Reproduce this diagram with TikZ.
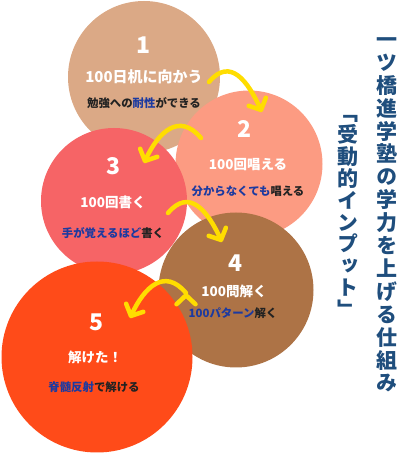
\documentclass[tikz,border=0pt]{standalone}
\usepackage{fontspec}
\setmainfont{Noto Sans CJK JP}
\newfontfamily\tatefont{Noto Sans CJK JP}[RawFeature=+vert]
\usetikzlibrary{arrows.meta}
\newcommand\bluetxt[1]{\textcolor{txt_blue}{#1}}
\definecolor{bub_tan}{RGB}{219,169,134}
\definecolor{bub_salmon}{RGB}{252,155,130}
\definecolor{bub_red}{RGB}{246,100,102}
\definecolor{bub_brown}{RGB}{173,115,70}
\definecolor{bub_orange}{RGB}{255,75,25}
\definecolor{arrow_yell}{RGB}{255,221,0}
\definecolor{txt_blue}{RGB}{28,58,160}
\definecolor{txt_dark}{RGB}{34,34,34}
\definecolor{tate_blue}{RGB}{31,78,125}

\begin{document}
\begin{tikzpicture}[x=1pt,y=1pt,>={Straight Barb[length=9pt,width=19pt,round]}]
    \tikzstyle{bubble}=[circle, draw=none, inner sep=0pt]
    \tikzstyle{numtxt}=[text=white, font=\bfseries\fontsize{23}{23}\selectfont]
    \tikzstyle{headtxt}=[text=white, font=\bfseries\fontsize{13.5}{14}\selectfont]
    \tikzstyle{subtxt}=[text=txt_dark, font=\bfseries\fontsize{11.4}{12}\selectfont]
    \tikzstyle{tate}=[text=tate_blue, align=center, inner sep=0pt]
    \tikzstyle{swoosh}=[->, draw=arrow_yell, line width=4.5pt, line cap=round]

    \useasboundingbox (0,0) rectangle (400,456);

    \node[bubble,fill=bub_tan,minimum size=152pt]    (B1) at (144,379) {};
    \node[bubble,fill=bub_salmon,minimum size=147pt] (B2) at (249,292) {};
    \node[bubble,fill=bub_red,minimum size=146pt]    (B3) at (114,255) {};
    \node[bubble,fill=bub_brown,minimum size=155pt]  (B4) at (236,166) {};
    \node[bubble,fill=bub_orange,minimum size=191pt] (B5) at (97,99)   {};

    \node[numtxt]  (N1) at (144,411) {1};
    \node[headtxt,font=\bfseries\fontsize{15}{16}\selectfont] (H1) at (144,379) {100日机に向かう};
    \node[subtxt]  (S1) at (144,353) {勉強への\bluetxt{耐性}ができる};

    \node[numtxt]  (N2) at (245,327) {2};
    \node[headtxt] (H2) at (248,291) {100回唱える};
    \node[subtxt]  (S2) at (248,265) {\bluetxt{分からなくても}唱える};

    \node[numtxt]  (N3) at (114,290) {3};
    \node[headtxt] (H3) at (113,254) {100回書く};
    \node[subtxt]  (S3) at (113,223) {\bluetxt{手が覚えるほど}書く};

    \node[numtxt]  (N4) at (236,193) {4};
    \node[headtxt] (H4) at (234,165) {100問解く};
    \node[subtxt]  (S4) at (233,143) {\bluetxt{100パターン}解く};

    \node[numtxt]  (N5) at (97,134)  {5};
    \node[headtxt] (H5) at (95,99)   {解けた！};
    \node[subtxt]  (S5) at (94,69)   {\bluetxt{脊髄反射}で解ける};

    \coordinate (t1) at (209,374);
    \coordinate (h1) at (262,344);
    \coordinate (t2) at (201,318);
    \coordinate (h2) at (144,293);
    \coordinate (t3) at (168,243);
    \coordinate (h3) at (222,214);
    \coordinate (t4) at (186,163);
    \coordinate (h4) at (130,138);

    \path[swoosh]
     (t1) edge[out=50,in=115,looseness=1.4] (h1)
     (t2) edge[out=130,in=65,looseness=1.4] (h2)
     (t3) edge[out=50,in=115,looseness=1.4] (h3)
     (t4) edge[out=130,in=65,looseness=1.4] (h4);

    \node[tate,font=\tatefont\bfseries\fontsize{21}{22.9}\selectfont] (C1) at (387,241)
     {一\\ツ\\橋\\進\\学\\塾\\の\\学\\力\\を\\上\\げ\\る\\仕\\組\\み};
    \node[tate,font=\tatefont\bfseries\fontsize{21}{21.9}\selectfont] (C2) at (348,239.5)
     {﹁\\受\\動\\的\\イ\\ン\\プ\\ッ\\ト\\﹂};
\end{tikzpicture}
\end{document}
